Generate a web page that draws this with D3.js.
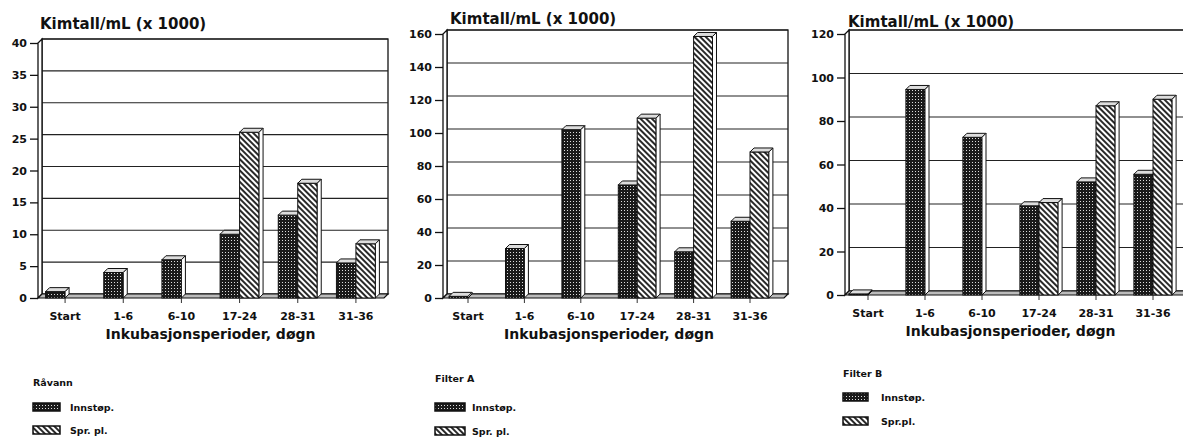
<!DOCTYPE html>
<html>
<head>
<meta charset="utf-8">
<script src="https://cdn.jsdelivr.net/npm/d3@7"></script>
<style>
  body { margin: 0; background: #fff; }
  svg text { font-family: "DejaVu Sans", sans-serif; font-weight: bold; fill: #111; }
</style>
</head>
<body>
<div id="chart"></div>
<script>
// kategorier og verdier (Kimtall/mL x 1000)
var categories = ["Start", "1-6", "6-10", "17-24", "28-31", "31-36"];
var seriesNames = ["Innstøp.", "Spr. pl."];

var ravannInn = [1, 4, 6, 10, 13, 5.5];
var ravannSpr = [0, 0, 0, 26, 18, 8.5];
var filterAInn = [1, 30, 102, 68.5, 28, 46.5];
var filterASpr = [0, 0, 0, 109, 158.5, 88.5];
var filterBInn = [0.5, 94.5, 72.5, 41, 52, 55.5];
var filterBSpr = [0, 0, 0, 42.5, 87, 90];

var ticksRavann = [0, 5, 10, 15, 20, 25, 30, 35, 40];
var ticksFilterA = [0, 20, 40, 60, 80, 100, 120, 140, 160];
var ticksFilterB = [0, 20, 40, 60, 80, 100, 120];

var yTitle = "Kimtall/mL (x 1000)";
var xTitle = "Inkubasjonsperioder, døgn";

// layout for hvert panel
var panels = [
  { name: "Råvann", inn: ravannInn, spr: ravannSpr, ticks: ticksRavann,
    left: 38, right: 384, top: 43, y0: 298, band: [36, 385],
    titleX: 40, titleY: 29, legX: 33, legY: 386, legTx: 70, sw: [403, 426], swW: 27 },
  { name: "Filter A", inn: filterAInn, spr: filterASpr, ticks: ticksFilterA,
    left: 443, right: 784, top: 34, y0: 298, band: [439.8, 778.2],
    titleX: 450, titleY: 24, legX: 435, legY: 382, legTx: 472, sw: [403, 427], swW: 30 },
  { name: "Filter B", inn: filterBInn, spr: filterBSpr, ticks: ticksFilterB,
    left: 845, right: 1195, top: 34, y0: 295, band: [839.5, 1181.5],
    titleX: 848, titleY: 27, legX: 843, legY: 377, legTx: 881, sw: [393, 417], swW: 25 }
];

var depth = 4;
var W = 1183, H = 437;

var svg = d3.select('#chart').append('svg')
  .attr('width', W)
  .attr('height', H);

var defs = svg.append('defs');

// prikkete mønster (innstøp.)
var dots = defs.append('pattern')
  .attr('id', 'dots')
  .attr('patternUnits', 'userSpaceOnUse')
  .attr('width', 3).attr('height', 3);
dots.append('rect').attr('width', 3).attr('height', 3).attr('fill', '#1a1a1a');
dots.append('rect').attr('x', 0).attr('y', 0).attr('width', 1).attr('height', 1).attr('fill', '#ddd');

// skravert mønster (spr. pl.)
var hatch = defs.append('pattern')
  .attr('id', 'hatch')
  .attr('patternUnits', 'userSpaceOnUse')
  .attr('width', 4).attr('height', 4)
  .attr('patternTransform', 'rotate(-45)');
hatch.append('rect').attr('width', 4).attr('height', 4).attr('fill', '#fff');
hatch.append('line').attr('x1', 1).attr('y1', 0).attr('x2', 1).attr('y2', 4)
  .attr('stroke', '#111').attr('stroke-width', 1.8);

var fills = ['url(#dots)', 'url(#hatch)'];

panels.forEach(function (p) {
  var g = svg.append('g');
  var max = p.ticks[p.ticks.length - 1];

  var y = d3.scaleLinear().domain([0, max]).range([p.y0, p.top]);
  var x = d3.scaleBand().domain(categories).range(p.band)
    .paddingInner(0.33).paddingOuter(0.165);
  var xs = d3.scaleBand().domain(seriesNames).range([0, x.bandwidth()]);

  var d = depth;
  var yT = y(max);

  // bakvegg
  g.append('rect')
    .attr('x', p.left + d).attr('y', yT - d)
    .attr('width', p.right - p.left).attr('height', p.y0 - yT)
    .attr('fill', '#fff').attr('stroke', '#111').attr('stroke-width', 1.3);

  // rutenett
  g.selectAll('.grid').data(p.ticks.slice(1)).enter().append('line')
    .attr('x1', p.left + d).attr('x2', p.right + d)
    .attr('y1', function (v) { return y(v) - d; })
    .attr('y2', function (v) { return y(v) - d; })
    .attr('stroke', '#222').attr('stroke-width', 1.2);

  // venstre vegg
  g.append('polygon')
    .attr('points', [[p.left, p.y0], [p.left, yT], [p.left + d, yT - d], [p.left + d, p.y0 - d]].join(' '))
    .attr('fill', '#fff').attr('stroke', '#111').attr('stroke-width', 1.3);

  // gulv
  g.append('polygon')
    .attr('points', [[p.left, p.y0], [p.right, p.y0], [p.right + d, p.y0 - d], [p.left + d, p.y0 - d]].join(' '))
    .attr('fill', '#bbb').attr('stroke', '#111').attr('stroke-width', 1.2);

  // søyler
  var bars = [];
  categories.forEach(function (c, i) {
    [p.inn[i], p.spr[i]].forEach(function (v, s) {
      if (v > 0) bars.push({ cat: c, s: s, v: v });
    });
  });

  var bg = g.selectAll('.bar').data(bars).enter().append('g');

  bg.append('rect')
    .attr('x', function (b) { return x(b.cat) + xs(seriesNames[b.s]); })
    .attr('y', function (b) { return y(b.v); })
    .attr('width', xs.bandwidth())
    .attr('height', function (b) { return p.y0 - y(b.v); })
    .attr('fill', function (b) { return fills[b.s]; })
    .attr('stroke', '#111').attr('stroke-width', 1);

  bg.append('polygon')
    .attr('points', function (b) {
      var x0 = x(b.cat) + xs(seriesNames[b.s]), w = xs.bandwidth(), yy = y(b.v);
      return [[x0, yy], [x0 + d, yy - d], [x0 + w + d, yy - d], [x0 + w, yy]].join(' ');
    })
    .attr('fill', '#ddd').attr('stroke', '#111').attr('stroke-width', 1);

  bg.append('polygon')
    .attr('points', function (b) {
      var x0 = x(b.cat) + xs(seriesNames[b.s]), w = xs.bandwidth(), yy = y(b.v);
      return [[x0 + w, yy], [x0 + w + d, yy - d], [x0 + w + d, p.y0 - d], [x0 + w, p.y0]].join(' ');
    })
    .attr('fill', '#fff').attr('stroke', '#111').attr('stroke-width', 1);

  // y-akse
  var ya = g.append('g')
    .attr('transform', 'translate(' + p.left + ',0)')
    .call(d3.axisLeft(y).tickValues(p.ticks).tickSize(8).tickPadding(3));
  ya.select('.domain').remove();
  ya.selectAll('line').attr('stroke', '#111').attr('stroke-width', 1.3);
  ya.selectAll('text').style('font-size', '11px').attr('fill', '#111');

  // x-akse
  var xa = g.append('g')
    .attr('transform', 'translate(0,' + p.y0 + ')')
    .call(d3.axisBottom(x).tickSize(5).tickPadding(9));
  xa.select('.domain').remove();
  xa.selectAll('line').attr('stroke', '#333').attr('stroke-width', 1);
  xa.selectAll('text').style('font-size', '11px').attr('fill', '#111');

  // titler
  g.append('text')
    .attr('x', p.titleX).attr('y', p.titleY)
    .style('font-size', '15px')
    .text(yTitle);

  g.append('text')
    .attr('x', (p.band[0] + p.band[1]) / 2).attr('y', p.y0 + 41)
    .attr('text-anchor', 'middle')
    .style('font-size', '14px')
    .text(xTitle);

  // tegnforklaring
  var lg = g.append('g');
  lg.append('text')
    .attr('x', p.legX).attr('y', p.legY)
    .style('font-size', '9.5px')
    .text(p.name);

  lg.selectAll('.sw').data(seriesNames).enter().append('rect')
    .attr('x', p.legX)
    .attr('y', function (n, i) { return p.sw[i]; })
    .attr('width', p.swW).attr('height', 8)
    .attr('fill', function (n, i) { return fills[i]; })
    .attr('stroke', '#111').attr('stroke-width', 1.5);

  lg.selectAll('.lt').data(seriesNames).enter().append('text')
    .attr('x', p.legTx)
    .attr('y', function (n, i) { return p.sw[i] + 8; })
    .style('font-size', '9.5px')
    .text(function (n, i) { return (p.name === "Filter B" && i === 1) ? "Spr.pl." : n; });
});
</script>
</body>
</html>
